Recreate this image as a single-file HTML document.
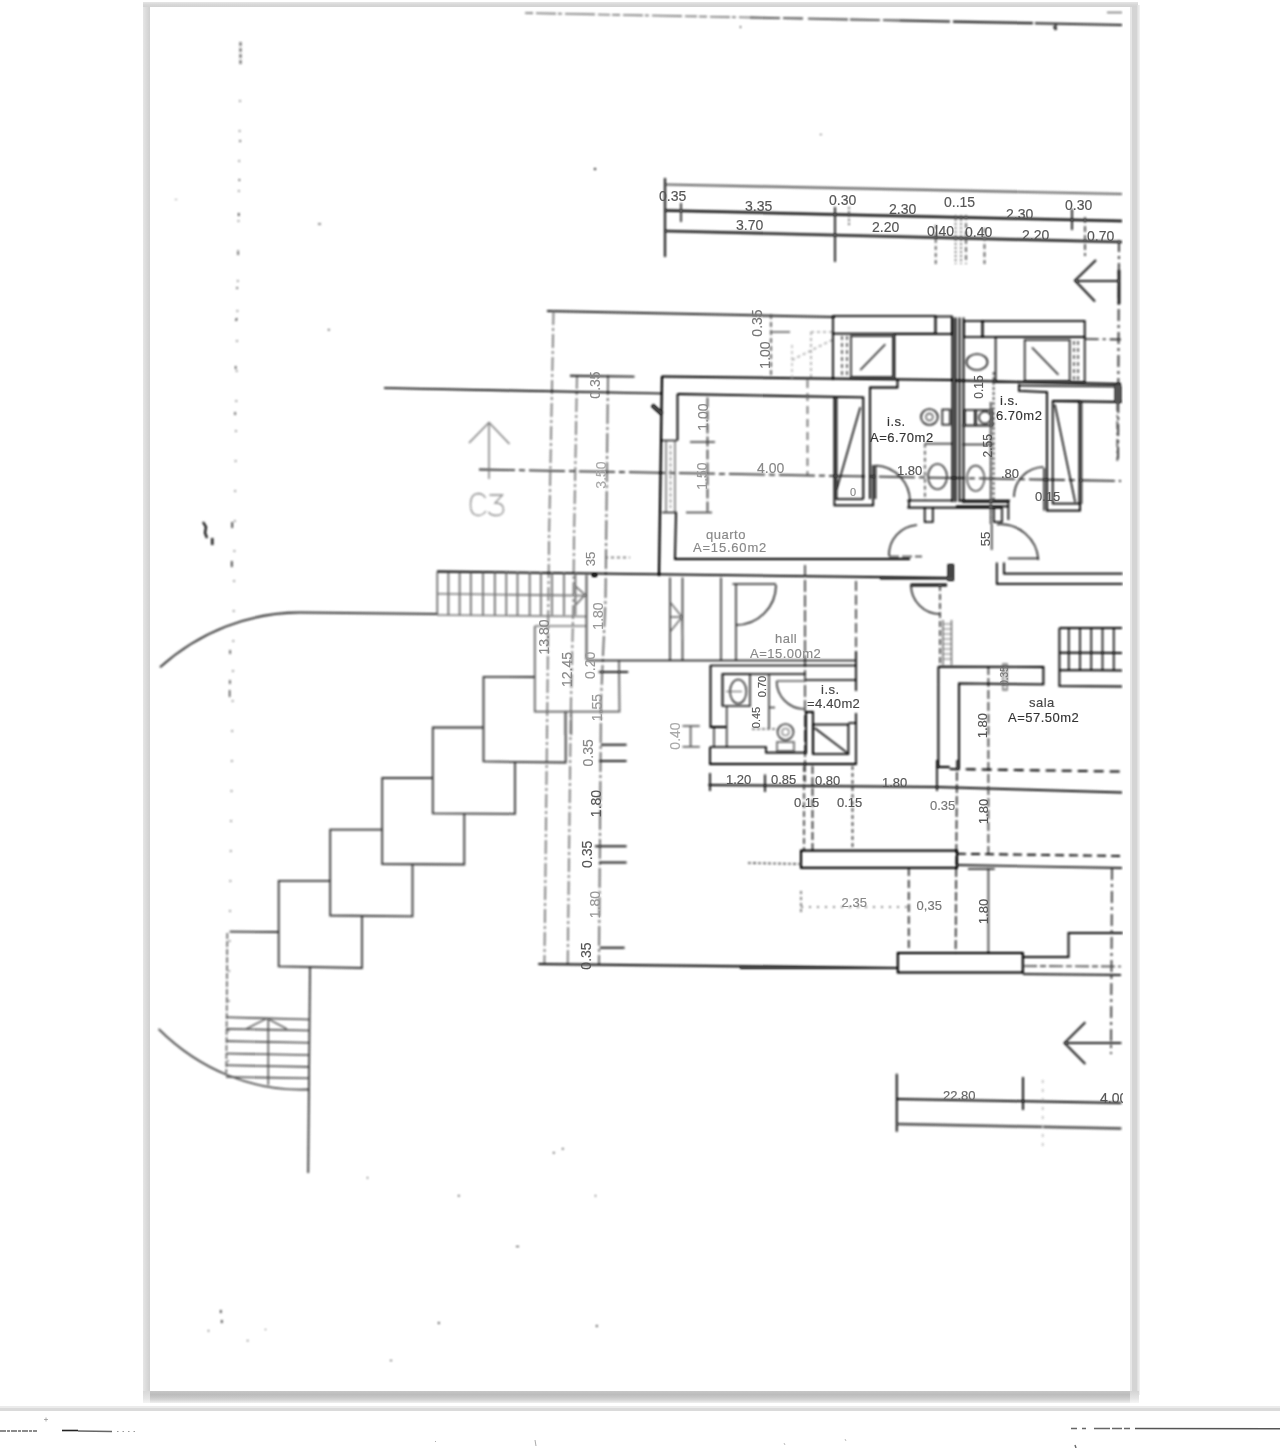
<!DOCTYPE html>
<html><head><meta charset="utf-8"><title>plan</title>
<style>
html,body{margin:0;padding:0;background:#fff;width:1280px;height:1448px;overflow:hidden;position:relative;font-family:"Liberation Sans",sans-serif;}
.frame{position:absolute;left:143px;top:2px;width:995px;height:1390px;background:#d4d4d4;filter:blur(0.6px);}
.frame .bl{position:absolute;left:0;top:0;width:7px;height:100%;background:linear-gradient(to right,#e6e6e6,#dcdcdc 40%,#d0d0d0);}
.frame .bt{position:absolute;left:0;top:0;width:100%;height:5px;background:linear-gradient(to bottom,#e6e6e6,#d8d8d8 50%,#d2d2d2);}
.frame .br{position:absolute;left:987px;top:5px;width:2px;height:1385px;background:#e6e6e6;}
.frame .br2{position:absolute;left:994px;top:3px;width:3px;height:1390px;background:linear-gradient(to right,#dcdcdc,#f4f4f4);}
.bot{position:absolute;left:143px;top:1391px;width:996px;height:12px;background:linear-gradient(to bottom,#c6c6c6 0,#bcbcbc 30%,#c8c8c8 55%,#d6d6d6 75%,#f0f0f0 100%);filter:blur(0.5px);}
.bot .lc{position:absolute;left:0;top:0;width:7px;height:100%;background:linear-gradient(to bottom,#d8d8d8,#e4e4e4 60%,#f4f4f4);}
.bot .rc{position:absolute;left:987px;top:0;width:9px;height:100%;background:linear-gradient(to bottom,#d4d4d4,#e4e4e4 60%,#f6f6f6);}
.page{position:absolute;left:150px;top:7px;width:980px;height:1384px;background:#fff;}
.sep{position:absolute;left:0;top:1406px;width:1280px;height:2px;background:#ebebeb;}
.sep2{position:absolute;left:0;top:1408px;width:1280px;height:3px;background:#dadada;}
svg{position:absolute;left:0;top:0;}
.t{font-family:"Liberation Sans",sans-serif;font-size:14px;fill:#555;stroke:#555;}
.ts{font-family:"Liberation Sans",sans-serif;font-size:11px;fill:#666;stroke:#666;}
.lb{font-family:"Liberation Sans",sans-serif;font-size:13px;fill:#777;stroke:#777;letter-spacing:0.5px;}
.dk{stroke:#333;stroke-width:1.6;}
.g{stroke:#888;}
.lg{stroke:#aaa;}
.d{stroke-dasharray:6 3;}
.dd{stroke-dasharray:26 5 4 5;}
.dt{stroke-dasharray:2 3;}

</style></head><body>
<div class="frame"><div class="bl"></div><div class="bt"></div><div class="br"></div><div class="br2"></div></div>
<div class="bot"><div class="lc"></div><div class="rc"></div></div>
<div class="page"></div>
<div class="sep"></div><div class="sep2"></div>
<svg width="1280" height="1448" viewBox="0 0 1280 1448">
<defs><filter id="tsoft" x="-1%" y="-1%" width="102%" height="102%"><feGaussianBlur stdDeviation="0.3"/></filter><filter id="soft" x="-1%" y="-1%" width="102%" height="102%" color-interpolation-filters="sRGB"><feGaussianBlur stdDeviation="0.85"/><feComponentTransfer><feFuncA type="linear" slope="1.35"/></feComponentTransfer></filter><clipPath id="pg"><rect x="150" y="7" width="973" height="1384"/></clipPath></defs>
<g clip-path="url(#pg)"><g filter="url(#soft)" fill="none" stroke="#555" stroke-width="1.61" stroke-linecap="butt">

<!-- top scan line -->
<path d="M525 13 L750 17.5" stroke="#999" stroke-width="1.63" stroke-dasharray="8 3 20 2 4 3 30 3 12 2"/>
<path d="M750 17.5 L900 20.5" stroke="#777" stroke-width="1.90" stroke-dasharray="30 3 20 5 40 2"/>
<path d="M900 20.5 L1122 25" stroke="#555" stroke-width="2.18" stroke-dasharray="50 3 80 2 90"/>
<path d="M1107 12.5 L1122 12.5" stroke="#888" stroke-width="1.36"/>
<path d="M1054 26 l2 4" stroke="#666" stroke-width="2.72"/>
<!-- left grid dashed -->
<path d="M240.5 42 L240.5 66" stroke="#888" stroke-width="2.04" stroke-dasharray="4 2"/>
<path d="M240 100 L228 1073" stroke="#aaa" stroke-width="1.63" stroke-dasharray="2 28"/>
<!-- top dimension lines -->
<path d="M665 184.5 L1122 194" stroke="#888" stroke-width="2.2"/>
<path d="M665 210.5 L1122 221" stroke="#444" stroke-width="2.45"/>
<path d="M665 231 L1122 242" stroke="#555" stroke-width="2.72"/>
<path d="M665 178 L665 257" stroke="#555" stroke-width="2.18"/>
<path d="M681 203 L681 222" stroke="#666" stroke-width="1.90"/>
<path d="M835 207 L835 262" stroke="#555" stroke-width="1.90"/>
<path d="M849 207 L849 227" stroke="#777" stroke-dasharray="2 2"/>
<path d="M935.7 225 L935.7 264" stroke="#777" stroke-dasharray="4 3"/>
<path d="M955.6 215 L955.6 264 M961 215 L961 264" stroke="#888" stroke-dasharray="2 2"/>
<path d="M966 215 L966 264" stroke="#777" stroke-dasharray="5 3"/>
<path d="M984.5 228 L984.5 264" stroke="#777" stroke-dasharray="5 3"/>
<path d="M1072 209 L1072 230" stroke="#555" stroke-width="1.90"/>
<path d="M1085 217 L1085 256" stroke="#666" stroke-dasharray="6 3"/>
<!-- right dashed & arrow -->
<path d="M1119 240 L1118 460" stroke="#666" stroke-width="1.90" stroke-dasharray="12 4 3 4"/>
<path d="M1119 270 L1119 304" stroke="#444" stroke-width="2.72"/>
<path d="M1075 281 L1120 281" stroke="#555" stroke-width="2.18"/>
<path d="M1096 260 L1075 280.5 L1095 301.5" stroke="#555" stroke-width="2.18"/>


<!-- building top boundary & left dims -->
<path d="M547 311 L835 317" stroke="#555" stroke-width="2.04"/>
<path d="M553.5 311 L549 540 L547.4 700 L544.4 964" stroke="#999" stroke-width="1.77" stroke-dasharray="14 3 3 3"/>
<path d="M577 375 L574 540 L573.4 600 L570.8 711 L567.7 964" stroke="#999" stroke-width="1.77" stroke-dasharray="14 3 3 3"/>
<path d="M608 375 L605.5 600 L601 700 L599 964" stroke="#888" stroke-width="1.77" stroke-dasharray="20 3 3 3"/>
<path d="M570 375.8 L634.5 376.6" stroke="#555" stroke-width="1.90"/>
<path d="M384 388 L662 393.5" stroke="#333" stroke-width="1.67"/>
<path d="M479 469.5 L1121 481" stroke="#666" stroke-width="1.77" stroke-dasharray="36 4 6 4"/>
<!-- C3 arrow -->
<path d="M489 422 L489 479" stroke="#999" stroke-width="1.4"/>
<path d="M469 443 L489 422.5 L509.5 444" stroke="#999" stroke-width="1.4"/>
<path d="M485.5 498 Q483 493.5 478 493.5 Q470.5 494 470.5 504.5 Q470.5 515.5 478 515.5 Q483 515.5 486 511" stroke="#a8a8a8" stroke-width="1.3"/>
<path d="M489.5 495 L502.5 495 L495 503 Q503.5 503 503.5 509.5 Q503.5 515.5 496 515.5 Q491 515.5 488.5 512" stroke="#a8a8a8" stroke-width="1.3"/>
<!-- rotated dims -->
<!-- quarto walls -->
<path d="M662 376 L659 576" stroke="#222" stroke-width="2.01"/>
<path d="M662 376.5 L952 380" stroke="#333" stroke-width="2.01"/>
<path d="M897.5 379 L897.5 387.5 L870 387.5 L870 499" stroke="#333" stroke-width="1.79"/>
<path d="M677.5 394 L863.3 397.4 L863.3 499" stroke="#333" stroke-width="1.79"/>
<path d="M677.5 394 L677.5 440.5 M676 512.5 L675 559 L910 559" stroke="#333" stroke-width="1.79"/>
<path d="M662 440.5 L677 440.5 M662 512.5 L677 512.5" stroke="#555"/>
<path d="M666 441 L666 512 M675 441 L675 512" stroke="#888" stroke-width="1.36"/>
<path d="M670.5 445 L670.5 508" stroke="#aaa" stroke-width="1.36" stroke-dasharray="4 2"/>
<path d="M437 571.5 L952.5 578" stroke="#333" stroke-width="1.79"/>
<rect x="947.5" y="564" width="6.5" height="17" fill="#444" stroke="none"/>
<path d="M652 405 L662 414" stroke="#444" stroke-width="4.08"/>
<!-- quarto dims inside -->
<path d="M707.5 397.5 L707.5 512.5" stroke="#666" stroke-dasharray="10 3"/>
<path d="M690 442 L715 442 M686 512.5 L712 512.5" stroke="#666"/>
<path d="M807.5 380 L807.5 475" stroke="#888" stroke-dasharray="8 5"/>
<path d="M771 314 L771 377" stroke="#777" stroke-dasharray="5 3"/>
<path d="M771 332 L790 332" stroke="#888"/>
<!-- wardrobe quarto -->
<path d="M834.4 397.4 L834.4 505.3 L873.2 505.3 L873.2 465" stroke="#333" stroke-width="1.67"/>
<path d="M836.5 398 L836.5 499.2 L863.3 499.2" stroke="#444" stroke-width="1.77"/>
<path d="M860.3 407.3 L836.7 489.3" stroke="#444"/>
<path d="M875.5 465 L875.5 499" stroke="#444"/>
<path d="M876 465.5 A36 36 0 0 1 910 501.5" stroke="#555"/>
<!-- faint demolished stuff -->
<path d="M811 332 L832 332 M811 332 L811 377 M792 360 L832 340" stroke="#bbb" stroke-dasharray="3 3"/>
<path d="M792 345 L792 378" stroke="#ccc" stroke-dasharray="3 3"/>
<!-- left bath top -->
<rect x="833" y="316" width="102.5" height="17.6" stroke="#333" stroke-width="1.67"/>
<rect x="935.5" y="316.5" width="16.5" height="17.5" stroke="#444" stroke-width="1.77"/>
<path d="M833 333.6 L833 380" stroke="#333" stroke-width="1.67"/>
<path d="M842 336 L842 378 M847 336 L847 378" stroke="#777" stroke-dasharray="4 3"/>
<rect x="851" y="336" width="42" height="41" stroke="#555"/>
<path d="M885.3 344.2 L860.3 370" stroke="#555"/>
<path d="M894.5 334 L894.5 380 M894.5 334.3 L952 334.3" stroke="#444"/>
<!-- double wall -->
<path d="M952.5 317.5 L952.5 502 M955.5 317.5 L955.5 502" stroke="#222" stroke-width="1.79"/>
<path d="M959.5 317.5 L959.5 502 M963.5 317.5 L963.5 502" stroke="#333" stroke-width="1.77"/>
<!-- left bath fixtures -->
<ellipse cx="929.4" cy="417" rx="8.4" ry="8" stroke="#555"/>
<circle cx="929.4" cy="417" r="3.5" stroke="#777" stroke-width="1.36"/>
<rect x="942.3" y="409.5" width="7.7" height="15.2" stroke="#555"/>
<path d="M924.9 443.7 L952 443.7" stroke="#666"/>
<path d="M924.9 443.7 L924.9 500" stroke="#777" stroke-dasharray="4 3"/>
<ellipse cx="937.5" cy="476.6" rx="9.5" ry="12.6" stroke="#666"/>
<!-- bath bottoms -->
<path d="M907.4 500.5 L952 500.5 M960 500.5 L1010 500.5" stroke="#333" stroke-width="1.67"/>
<path d="M907.4 507.7 L1002 507.7 M909 500.5 L909 507.7" stroke="#333" stroke-width="1.67"/>
<path d="M924.7 507.7 L924.7 522 L932.8 522 L932.8 507.7" stroke="#333" stroke-width="1.56"/>
<path d="M993.8 507.7 L993.8 522 L1002 522 L1002 507.7 M1008.4 500.5 L1008.4 520" stroke="#333" stroke-width="1.56"/>


<!-- right bath -->
<rect x="964" y="321" width="18.5" height="16" stroke="#444" stroke-width="1.77"/>
<rect x="982.5" y="321" width="102.2" height="16" stroke="#333" stroke-width="1.67"/>
<ellipse cx="977" cy="362" rx="10.5" ry="8" stroke="#555"/>
<rect x="995.6" y="337" width="89.1" height="45" stroke="#444"/>
<rect x="1024.7" y="340" width="45" height="41" stroke="#555"/>
<path d="M1032 347.5 L1058.4 374.7" stroke="#555"/>
<path d="M1074 341 L1074 380 M1078 341 L1078 380" stroke="#777" stroke-dasharray="4 3"/>
<path d="M1084.7 339 L1121 339.5" stroke="#555" stroke-dasharray="14 4 3 4"/>
<path d="M956 380.5 L1121 384" stroke="#333" stroke-width="1.89"/>
<path d="M1019 384 L1019 391 L1047 392 L1047 510.6 L1080 510.6 L1080 503.6" stroke="#333" stroke-width="1.79"/>
<path d="M1019 385.5 L1115 386.5" stroke="#333" stroke-width="1.67"/>
<path d="M1052.7 401 L1121.6 402" stroke="#333" stroke-width="1.79"/>
<rect x="1052.7" y="401" width="26.7" height="102.6" stroke="#333" stroke-width="1.67"/>
<path d="M1081.5 402 L1081.5 504" stroke="#555"/>
<path d="M1054.8 404.5 L1075.2 502.2" stroke="#444"/>
<rect x="1114.5" y="385.5" width="7" height="17" fill="#555" stroke="none"/>
<path d="M1117.3 403 L1117.3 461" stroke="#777" stroke-dasharray="8 4 2 4"/>
<path d="M993.6 372 L993.6 502" stroke="#666" stroke-dasharray="3 2"/>
<path d="M962 425.5 L993.6 425.5 M962 444.5 L993.6 444.5" stroke="#555"/>
<rect x="964.8" y="410" width="10" height="15.5" stroke="#555"/>
<rect x="976" y="410" width="16" height="15.5" stroke="#555"/>
<circle cx="985" cy="417.5" r="6" stroke="#555"/>
<ellipse cx="975.7" cy="478.3" rx="8.75" ry="12.7" stroke="#777"/>
<path d="M1043.5 467 A30 30 0 0 0 1014 497" stroke="#555"/>
<path d="M1044.2 468 L1044.2 510.6" stroke="#444"/>
<path d="M962 502 L1009 502 M956 506.4 L1008 506.4" stroke="#333" stroke-width="1.67"/>
<!-- doors below baths -->
<path d="M889 556 A30 30 0 0 1 917 525" stroke="#555"/>
<path d="M889 556.5 L922 556.5" stroke="#666" stroke-dasharray="10 3"/>
<path d="M997 524.5 A38 38 0 0 1 1038.4 560" stroke="#555"/>
<path d="M1008 558.4 L1038.4 558.4" stroke="#555"/>
<path d="M991.7 524 L991.7 550 M990.7 402 L990.7 524" stroke="#666"/>
<path d="M990.7 402 L990.7 524" stroke="#777" stroke-dasharray="3 3"/>
<path d="M996.8 562.5 L996.8 583.8 L1122.7 583.8 M1004 562.5 L1004 573.7 L1122.7 573.7" stroke="#333" stroke-width="1.67"/>
<path d="M880 578.7 L953 578.7" stroke="#555"/>
<path d="M910.5 585 L947 585" stroke="#444" stroke-width="2.99"/>
<!-- hall -->
<path d="M911 585 A29 29 0 0 0 940 614" stroke="#555"/>
<path d="M940 585 L940 665" stroke="#666" stroke-dasharray="6 3"/>
<path d="M943 620 L943 665 M951.5 620 L951.5 665" stroke="#888" stroke-width="1.36"/>
<path d="M943 624 L951.5 624 M943 629 L951.5 629 M943 634 L951.5 634 M943 639 L951.5 639 M943 644 L951.5 644 M943 649 L951.5 649 M943 654 L951.5 654 M943 659 L951.5 659" stroke="#999" stroke-width="1.09"/>
<path d="M670 577.5 L670 660 M682.5 577.5 L682.5 660 M721 577.5 L721 661" stroke="#666"/>
<path d="M670 602 L682 617 L670 632 M682 617 L682.5 640 M670 617 L682.5 617" stroke="#888" stroke-width="1.36"/>
<path d="M736 584 L736 660" stroke="#666"/>
<path d="M732.5 584 L776 584" stroke="#555"/>
<path d="M776 585 A40 40 0 0 1 736 625" stroke="#555"/>
<path d="M805 565 L805 782" stroke="#666" stroke-dasharray="12 3"/>
<path d="M856 581 L856 651" stroke="#666" stroke-dasharray="10 4"/>
<path d="M587 660.5 L855 660.5" stroke="#444" stroke-width="1.5"/>
<path d="M710.5 665.5 L856 665.5" stroke="#333" stroke-width="1.6"/>


<!-- curve -->
<path d="M160 667.3 A220 240 0 0 1 300 612.5 L437 614" stroke="#666" stroke-width="1.90"/>
<path d="M158.6 1029 A215 243 0 0 0 308.5 1089.5" stroke="#777" stroke-width="1.77"/>
<!-- stairs top-left -->
<path d="M437.3 572 L437.3 615 M448.4 572 L448.4 615 M459.6 572 L459.6 615 M470.8 572 L470.8 615 M483 572 L483 615 M494.8 572 L494.8 615 M506.3 572 L506.3 615 M517.5 572 L517.5 615 M529.7 572 L529.7 615 M540.9 572 L540.9 615 M552 572 L552 615 M564 572 L564 615 M575.4 572 L575.4 615" stroke="#888" stroke-width="1.63"/>
<path d="M437 615 L586 616.5 M437 593.8 L586 595.6" stroke="#999" stroke-width="1.63"/>
<path d="M575.9 586.6 L585 594.7 L576.2 604.4" stroke="#888" stroke-width="1.50"/>
<path d="M586.5 575 L586.5 660" stroke="#777" stroke-width="1.90"/>
<path d="M535 626 L586 626" stroke="#999" stroke-width="1.63"/>
<path d="M534.8 626 L534.8 711.6 L619.5 711.6 L619 661" stroke="#888" stroke-width="1.77"/>
<rect x="592" y="573" width="5" height="4" fill="#222" stroke="none"/>
<!-- stepped blocks -->
<g stroke="#666" stroke-width="1.77">
<path d="M534.6 677 L483.5 676.9 L483.5 761.5 L565.7 762.5 L565.7 711.6"/>
<path d="M483.5 727.5 L432.8 727.5 L432.8 813.3 L515 813.8 L515 762"/>
<path d="M432.8 778 L382.2 778 L382.2 864 L464.3 864.5 L464.3 813.5"/>
<path d="M382.2 829.6 L330.2 829.6 L330.2 915.5 L412.5 916.4 L412.5 864.2"/>
<path d="M330.2 880.8 L278.7 880.8 L278.7 966.3 L362 968 L362 915.5"/>
<path d="M278.7 932 L229.7 931.6"/>
<path d="M310 966.5 L308.2 1173"/>
</g>
<path d="M227.3 933 L226.3 1073" stroke="#888" stroke-width="1.63" stroke-dasharray="6 2"/>
<!-- lower stairs -->
<path d="M226 1017.2 L309.4 1019.5 M226 1028.9 L309.4 1030.5 M226 1041.1 L309.4 1042.8 M226 1053.5 L309.4 1055 M226 1065.2 L309.4 1066.9 M226 1077 L309.4 1078.2" stroke="#777" stroke-width="1.63"/>
<path d="M268.3 1018 L268.3 1085" stroke="#777" stroke-width="1.50"/>
<path d="M246 1029 L267 1018.3 L287 1029" stroke="#888" stroke-width="1.50"/>
<!-- dim ticks left column -->
<path d="M598.7 672 L628.2 672 M601 744.7 L626.6 744.7 M599 761 L626.6 761 M595 846.3 L626.6 846.3 M599 862.5 L626.6 862.5 M600 947.8 L624.6 947.8" stroke="#555" stroke-width="1.90"/>
<path d="M565.2 711.6 L565.2 735 M571.3 711.6 L571.3 735" stroke="#888"/>
<!-- bottom building line -->
<path d="M538.3 964 L897.8 968" stroke="#444" stroke-width="2.18"/>


<!-- small bath 4.40 -->

<path d="M856 651 L856 691 M856 713 L856 765" stroke="#333" stroke-width="1.67"/>
<path d="M805.5 680 L856 680" stroke="#333" stroke-width="1.67"/>
<path d="M710.5 665 L710.5 727 L726.7 727" stroke="#333" stroke-width="1.79"/>
<path d="M722.5 706 L722.5 674 L805.5 674" stroke="#333" stroke-width="1.67"/>
<rect x="722.5" y="674" width="27.5" height="32" stroke="#555"/>
<ellipse cx="738.2" cy="691.5" rx="8.2" ry="12" stroke="#666"/>
<path d="M726 691.5 L742 691.5" stroke="#888" stroke-width="1.09"/>
<path d="M726.7 706 L726.7 747 M714 728 L714 747" stroke="#666"/>
<path d="M769 675 L769 729 M769 707.5 L775 707.5" stroke="#666"/>
<path d="M752 729 L777 729" stroke="#888" stroke-dasharray="3 2"/>
<path d="M776.6 681 A28 28 0 0 0 804 709" stroke="#666"/>
<path d="M776.6 681 L804 681" stroke="#888"/>
<circle cx="785.5" cy="732" r="8" stroke="#666"/>
<circle cx="785.5" cy="732" r="3.5" stroke="#888" stroke-width="1.09"/>
<rect x="777" y="742" width="17" height="9" stroke="#888"/>
<path d="M806 754 L806 712 L813 712 L813 754" stroke="#333" stroke-width="1.79"/>
<rect x="813" y="724.5" width="35.4" height="29.5" stroke="#333" stroke-width="1.67"/>
<path d="M814.6 728 L847 752.6" stroke="#444"/>
<path d="M848.4 723 L856 723" stroke="#333" stroke-width="1.56"/>
<path d="M710 747 L766 747 L766 752.7 L806 752.7" stroke="#333" stroke-width="1.67"/>
<path d="M710 747 L710 764 L856 764" stroke="#333" stroke-width="1.79"/>
<!-- 0.40 dim -->
<path d="M690.6 726 L690.6 746.7 M682.5 726 L699.8 726 M682.5 746.7 L699.8 746.7" stroke="#777"/>
<!-- bottom dims row -->
<path d="M708.4 785 L937 787 L1122 792.5" stroke="#444" stroke-width="1.90"/>
<path d="M710 773 L710 791 M765 774.5 L765 792 M937 767 L937 791" stroke="#444" stroke-width="1.77"/>
<path d="M812.5 766 L812.5 850" stroke="#555" stroke-dasharray="8 3"/>
<path d="M852.5 766 L852.5 850" stroke="#666" stroke-dasharray="4 3"/>
<path d="M804 766 L804 850" stroke="#666" stroke-dasharray="6 3"/>
<path d="M957 760 L955.6 954" stroke="#555" stroke-dasharray="9 3"/>
<path d="M988.4 666 L988.4 854" stroke="#666" stroke-dasharray="9 3"/>
<path d="M988.4 868 L988.4 954" stroke="#666"/>
<!-- sala -->
<path d="M938.4 666.6 L938.4 767 L949.7 767 M938.4 666.6 L1043.4 667 L1043.4 684.4 L959 683.4 L959 768.8" stroke="#333" stroke-width="1.79"/>
<path d="M937 760 L937 768" stroke="#333" stroke-width="1.67"/>
<path d="M949.7 769 L1122 771.6" stroke="#444" stroke-width="2.04" stroke-dasharray="10 6"/>
<rect x="1003" y="664" width="4" height="26" stroke="#888" stroke-width="1.36"/>
<g stroke="#444" stroke-width="1.90">
<path d="M1059.4 628 L1122 628 M1059.4 628 L1059.4 686 L1122 686.5 M1059.4 670 L1122 670.5 M1059.4 652.5 L1122 653"/>
<path d="M1068.75 629 L1068.75 670 M1080 629 L1080 670 M1091.25 629 L1091.25 670 M1102.5 629 L1102.5 670 M1113.75 629 L1113.75 670" stroke-width="1.63"/>
</g>
<!-- lower beams -->
<rect x="801" y="850.6" width="156" height="17.2" stroke="#222" stroke-width="1.89"/>
<path d="M957 853.75 L1122.8 856" stroke="#444" stroke-width="1.90" stroke-dasharray="9 5"/>
<path d="M748 863 L801 864" stroke="#777" stroke-dasharray="3 2"/>
<path d="M957 865 L1122 868" stroke="#555" stroke-width="1.77"/>
<path d="M908.75 868 L908.75 952" stroke="#555" stroke-dasharray="8 4"/>
<path d="M968 869 L994.7 869" stroke="#555"/>
<path d="M801 907 L908.75 907" stroke="#888" stroke-dasharray="2 6"/>
<path d="M801 891 L801 913" stroke="#888" stroke-dasharray="3 3"/>
<rect x="897.8" y="953" width="125" height="19.5" stroke="#222" stroke-width="1.89"/>
<path d="M1022.8 957 L1068.5 957 L1068.5 933 L1122.8 933" stroke="#444" stroke-width="1.90"/>
<path d="M1023 966 L1121 966.5" stroke="#777" stroke-dasharray="14 3 6 3"/>
<path d="M1023 974 L1121 975" stroke="#555" stroke-width="1.90"/>
<path d="M1112 868 L1111 1054" stroke="#666" stroke-width="1.77" stroke-dasharray="12 4 3 4"/>
<path d="M897.8 968 L740 968" stroke="#444" stroke-width="2.04"/>
<!-- bottom right arrow & dims -->
<path d="M1064.5 1043 L1121.4 1043" stroke="#555" stroke-width="2.04"/>
<path d="M1085.3 1022.3 L1064.5 1043 L1085.3 1064" stroke="#555" stroke-width="2.04"/>
<path d="M896.75 1073.75 L896.75 1131.7 M1023 1077 L1023 1110" stroke="#444" stroke-width="1.90"/>
<path d="M896.75 1099 L1121.4 1103" stroke="#444" stroke-width="1.90"/>
<path d="M896.75 1124 L1121.4 1128.5" stroke="#777" stroke-width="2.45"/>
<path d="M1042.7 1080 L1042.7 1150" stroke="#ccc" stroke-dasharray="3 6"/>


<!-- scan specks -->
<g fill="#555" stroke="none">
<rect x="239.5" y="140" width="1.2" height="2"/><rect x="238.8" y="179" width="1.2" height="2"/>
<rect x="238" y="213" width="1.4" height="3"/><rect x="237.5" y="252" width="1.2" height="3"/>
<rect x="236.5" y="287" width="1.2" height="2"/><rect x="236" y="318" width="1.2" height="2"/>
<rect x="318" y="223.5" width="3" height="1"/><rect x="175.5" y="199" width="1" height="1"/>
<rect x="235.5" y="319" width="1.2" height="2"/><rect x="235" y="366" width="1.2" height="3"/>
<rect x="234.5" y="412" width="1.2" height="3"/><rect x="328" y="329" width="1.5" height="1.5"/>
<rect x="231.5" y="522" width="1.5" height="6"/><rect x="231" y="561" width="1.5" height="6"/>
<path d="M203 522 L206 527 L205 533 L207 538" stroke="#444" stroke-width="2.18" fill="none"/>
<rect x="211" y="538" width="2.5" height="7"/>
<rect x="229.5" y="650" width="1.2" height="4"/><rect x="229.3" y="680" width="1.2" height="4"/><rect x="229" y="690" width="1.2" height="7"/>
<rect x="594" y="168" width="2" height="2"/><rect x="740" y="26" width="1" height="2"/>
<rect x="1055" y="24" width="1.5" height="5"/>
<rect x="820" y="134" width="1.5" height="1"/>
<rect x="553" y="1152" width="1.5" height="1.5"/><rect x="516" y="1246" width="3" height="1"/>
<rect x="220" y="1310" width="1.5" height="3"/><rect x="221" y="1320" width="1.5" height="3"/>
<rect x="247" y="1340" width="1.2" height="1.2"/><rect x="265" y="1329" width="1" height="1"/>
<rect x="438" y="1322" width="1.5" height="2"/><rect x="595" y="1195" width="1" height="1.5"/>
<rect x="458" y="1195" width="1.5" height="1.5"/><rect x="596" y="1325" width="1.5" height="2"/>
<rect x="562" y="1148" width="1.5" height="1.5"/><rect x="367" y="1177" width="1" height="1.5"/>
<rect x="208" y="1330" width="1" height="1.5"/><rect x="390" y="1360" width="2" height="1"/>
</g>
<path d="M605 557.5 L630 557.5" stroke="#888" stroke-dasharray="3 3"/>

<!-- PLAN -->
</g>
<g filter="url(#tsoft)" style="stroke-width:0.15px;paint-order:stroke">
<g class="t" text-anchor="middle" dominant-baseline="central">
<text transform="translate(594.5 385) rotate(-90)" style="fill:#888;stroke:#888">0.35</text>
<text transform="translate(600.5 475) rotate(-90)" style="fill:#aaa;stroke:#aaa">3.50</text>
<text transform="translate(590.6 559) rotate(-90)" style="font-size:13px;fill:#888;stroke:#888">35</text>
<text transform="translate(544 637) rotate(-90)" style="fill:#888;stroke:#888">13.80</text>
<text transform="translate(566.6 669.5) rotate(-90)" style="fill:#888;stroke:#888">12.45</text>
<text transform="translate(589.6 665.4) rotate(-90)" style="fill:#999;stroke:#999">0.20</text>
<text transform="translate(598 616) rotate(-90)" style="fill:#999;stroke:#999">1.80</text>
<text transform="translate(596.7 707.6) rotate(-90)" style="fill:#999;stroke:#999">1.55</text>
<text transform="translate(587.5 752.8) rotate(-90)" style="fill:#888;stroke:#888">0.35</text>
<text transform="translate(596 803.5) rotate(-90)">1.80</text>
<text transform="translate(586.5 854.3) rotate(-90)">0.35</text>
<text transform="translate(594.5 904.5) rotate(-90)" style="fill:#999;stroke:#999">1.80</text>
<text transform="translate(585.5 956) rotate(-90)">0.35</text>
<text transform="translate(757 323) rotate(-90)" style="fill:#777;stroke:#777">0.35</text>
<text transform="translate(765 355) rotate(-90)" style="fill:#777;stroke:#777">1.00</text>
<text transform="translate(702.5 417) rotate(-90)" style="fill:#888;stroke:#888">1.00</text>
<text transform="translate(701.5 476) rotate(-90)" style="fill:#999;stroke:#999">1.50</text>
<text transform="translate(675 736) rotate(-90)" style="fill:#aaa;stroke:#aaa">0.40</text>
<text transform="translate(762 686.5) rotate(-90)" style="font-size:11px">0.70</text>
<text transform="translate(755.8 717.5) rotate(-90)" style="font-size:11px">0.45</text>
<text transform="translate(987.6 445.8) rotate(-90)" style="font-size:12px">2.55</text>
<text transform="translate(985 539) rotate(-90)" style="font-size:13px">55</text>
<text transform="translate(979 387) rotate(-90)" style="font-size:12px">0.15</text>
<text transform="translate(982.4 725.6) rotate(-90)" style="font-size:13px">1.80</text>
<text transform="translate(983.7 811.5) rotate(-90)" style="font-size:13px">1.80</text>
<text transform="translate(983.7 911.5) rotate(-90)" style="font-size:13px">1.80</text>
<text transform="translate(1004.5 676) rotate(-90)" style="font-size:10px;fill:#777;stroke:#777">0.35</text>
</g>
<text class="t" x="659" y="201">0.35</text>
<text class="t" x="745" y="211">3.35</text>
<text class="t" x="829" y="205">0.30</text>
<text class="t" x="889" y="214">2.30</text>
<text class="t" x="944" y="207">0..15</text>
<text class="t" x="1006" y="219">2.30</text>
<text class="t" x="1065" y="210">0.30</text>
<text class="t" x="736" y="230">3.70</text>
<text class="t" x="872" y="232">2.20</text>
<text class="t" x="927" y="236">0|40</text>
<text class="t" x="965" y="237">0.40</text>
<text class="t" x="1022" y="240">2.20</text>
<text class="t" x="1087" y="241">0.70</text>
<text class="t" x="757" y="472.5" style="fill:#888;stroke:#888">4.00</text>
<text class="ts" x="850" y="496" style="fill:#888;stroke:#888">0</text>
<text class="lb" x="887" y="426" style="fill:#333;stroke:#333">i.s.</text>
<text class="lb" x="870" y="442" style="fill:#333;stroke:#333">A=6.70m2</text>
<text class="t" x="897" y="475" style="font-size:13px">1.80</text>
<text class="lb" x="1000" y="405" style="fill:#333;stroke:#333">i.s.</text>
<text class="lb" x="996" y="420" style="fill:#333;stroke:#333">6.70m2</text>
<text class="t" x="1001" y="478" style="font-size:13px">.80</text>
<text class="t" x="1035" y="500.5" style="font-size:13px">0.15</text>
<text class="lb" x="706" y="538.5" style="fill:#888;stroke:#888">quarto</text>
<text class="lb" x="693" y="551.5" style="letter-spacing:0.8px;fill:#888;stroke:#888">A=15.60m2</text>
<text class="lb" x="775" y="642.5" style="fill:#888;stroke:#888">hall</text>
<text class="lb" x="750" y="657.5" style="fill:#888;stroke:#888">A=15.00m2</text>
<text class="lb" x="821" y="693.5" style="fill:#444;stroke:#444">i.s.</text>
<text class="lb" x="807" y="708" style="fill:#444;stroke:#444;letter-spacing:0.3px">=4.40m2</text>
<text class="t" x="726" y="783.6" style="font-size:13px">1.20</text>
<text class="t" x="771" y="784" style="font-size:13px">0.85</text>
<text class="t" x="815" y="784.5" style="font-size:13px">0.80</text>
<text class="t" x="882" y="787" style="font-size:13px">1.80</text>
<text class="t" x="794" y="807" style="font-size:13px">0.15</text>
<text class="t" x="837" y="807" style="font-size:13px">0.15</text>
<text class="t" x="930" y="810" style="font-size:13px;fill:#777;stroke:#777">0.35</text>
<text class="lb" x="1029" y="707" style="fill:#444;stroke:#444">sala</text>
<text class="lb" x="1008" y="722" style="fill:#333;stroke:#333">A=57.50m2</text>
<text class="t" x="841.6" y="907" style="font-size:13px;fill:#888;stroke:#888">2.35</text>
<text class="t" x="916.6" y="910" style="font-size:13px;fill:#777;stroke:#777">0,35</text>
<text class="t" x="943" y="1100" style="font-size:13px;fill:#666;stroke:#666">22.80</text>
<text class="t" x="1100" y="1103" style="font-size:14px">4.00</text>
</g>
</g>
</svg>

<svg width="1280" height="1448" viewBox="0 0 1280 1448" style="position:absolute;left:0;top:0">
<g fill="none">
<path d="M0 1431 L37 1431" stroke="#666" stroke-width="1.4" stroke-dasharray="6 1 3 1"/>
<path d="M62 1430.5 L78 1430.5" stroke="#222" stroke-width="1.6"/>
<path d="M78 1431 L112 1431.5" stroke="#666" stroke-width="1.4"/>
<path d="M117 1431.5 L136 1431.5" stroke="#999" stroke-width="1" stroke-dasharray="1.5 4"/>
<path d="M44 1419.5 L48 1419.5 M46 1417.5 L46 1421.5" stroke="#999" stroke-width="0.8"/>
<path d="M1071 1428.5 L1133 1428.5" stroke="#666" stroke-width="1.4" stroke-dasharray="6 5 4 8 16 2 10 2"/>
<path d="M1135 1428.5 L1280 1428.7" stroke="#555" stroke-width="1.6"/>
<path d="M1075 1445 L1076 1448" stroke="#666" stroke-width="1.4"/>
<path d="M535 1440 L536 1446" stroke="#aaa" stroke-width="1"/>
<path d="M435 1441 L436 1442" stroke="#aaa" stroke-width="1"/>
<path d="M784 1443 L785 1445" stroke="#bbb" stroke-width="1"/>
<path d="M845 1439 L846 1441" stroke="#bbb" stroke-width="1"/>
</g>
</svg>
</body></html>
